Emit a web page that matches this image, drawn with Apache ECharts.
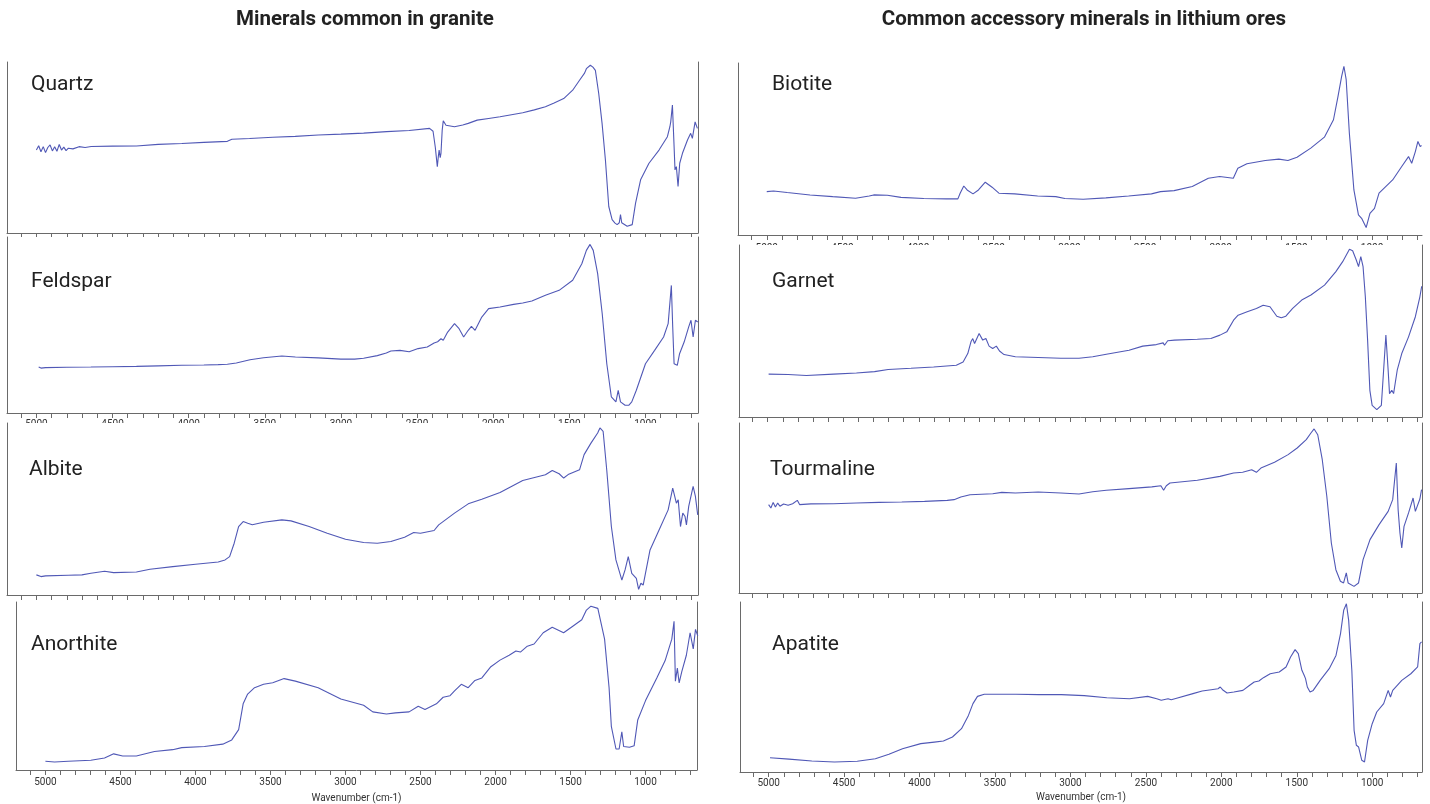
<!DOCTYPE html>
<html>
<head>
<meta charset="utf-8">
<script src="https://cdn.jsdelivr.net/npm/echarts@6/dist/echarts.min.js"></script>
<style>
html,body{margin:0;padding:0;background:#fff;}
#chart{width:1430px;height:804px;}
</style>
</head>
<body>
<div id="chart"></div>
<script>
// ---------- DATA (wavenumber cm-1, relative signal 0-100) ----------
const columnTitles = ['Minerals common in granite', 'Common accessory minerals in lithium ores'];
const mineralNames = ['Quartz', 'Feldspar', 'Albite', 'Anorthite', 'Biotite', 'Garnet', 'Tourmaline', 'Apatite'];
const axisName = 'Wavenumber (cm-1)';
const tickValues = [700,800,900,1000,1100,1200,1300,1400,1500,1600,1700,1800,1900,2000,2100,2200,2300,2400,2500,2600,2700,2800,2900,3000,3100,3200,3300,3400,3500,3600,3700,3800,3900,4000,4100,4200,4300,4400,4500,4600,4700,4800,4900,5000,5100];
const tickLabels = [1000,1500,2000,2500,3000,3500,4000,4500,5000];

const quartz = [[5000,48.5],[4985,51],[4970,47.5],[4955,50.5],[4940,47],[4925,50],[4910,51.5],[4895,48],[4880,50.5],[4865,47.8],[4850,51.8],[4835,48.5],[4820,50.2],[4805,48.2],[4790,49.6],[4760,49.2],[4720,50.5],[4680,50.0],[4640,50.6],[4500,50.8],[4343,50.9],[4200,51.8],[4045,52.3],[3900,53.0],[3746,53.6],[3716,54.8],[3600,55.3],[3448,56.0],[3300,56.5],[3149,57.3],[3000,57.8],[2851,58.4],[2700,59.3],[2552,59.9],[2418,61.2],[2395,59.5],[2380,50],[2367,38.8],[2360,45],[2355,48.5],[2348,44],[2343,46.6],[2335,60],[2328,65.6],[2310,63],[2299,62.5],[2254,62.1],[2200,63.2],[2164,64.1],[2105,66.0],[2030,67],[1955,68.0],[1880,69.2],[1806,70.3],[1730,72],[1657,73.8],[1600,76],[1537,78.6],[1478,83.5],[1433,89.3],[1400,93.5],[1388,96.1],[1362,98.1],[1345,97],[1329,95.1],[1307,81.6],[1285,64.1],[1263,42.7],[1241,15.5],[1219,7.8],[1200,5.8],[1186,4.9],[1172,6],[1164,10.7],[1156,6],[1153,4.9],[1120,3.9],[1087,4.9],[1065,17.5],[1032,31.1],[977,40.8],[911,48.5],[856,56.3],[840,62],[834,65.0],[823,74.8],[812,50.5],[806,36.9],[797,38.8],[786,27.2],[775,40.8],[757,46.6],[724,54.4],[703,58.3],[692,55.3],[674,65.0],[659,61.2]];

const feldspar = [[4985,26.1],[4970,25.5],[4940,25.8],[4800,26.0],[4642,26.1],[4500,26.3],[4343,26.5],[4200,26.8],[4045,27.1],[3900,27.3],[3806,27.5],[3746,27.7],[3687,28.4],[3597,30.3],[3508,31.4],[3388,32.4],[3299,31.8],[3149,31.3],[3000,30.6],[2910,30.6],[2851,31.1],[2761,32.6],[2702,34.1],[2672,35.2],[2612,35.6],[2552,34.8],[2493,36.6],[2433,37.5],[2388,39.8],[2365,40.5],[2358,41.3],[2343,42.2],[2328,41.3],[2299,46.0],[2254,50.8],[2224,47.9],[2194,43.2],[2164,47.0],[2143,49.2],[2119,47.0],[2075,54.5],[2030,59.3],[1955,60.2],[1866,61.7],[1806,62.5],[1746,63.6],[1657,66.9],[1567,69.7],[1478,75.4],[1418,84.8],[1388,92.4],[1364,95.8],[1343,92.4],[1314,79.2],[1284,56.4],[1254,28.0],[1224,9.1],[1194,6.3],[1179,12.9],[1164,6.3],[1134,4.4],[1110,4.4],[1090,6.3],[1060,12.9],[1000,28.0],[940,35.6],[881,43.2],[851,50.8],[830,72.5],[821,48.9],[812,28.0],[800,27.1],[791,27.1],[776,33.7],[746,40.3],[716,48.9],[701,52.7],[687,43.2],[672,52.7],[657,51.7]];

const albite = [[5000,11.7],[4970,10.7],[4940,11.1],[4791,11.5],[4701,11.7],[4642,12.6],[4552,13.8],[4493,13.0],[4343,13.4],[4254,15.0],[4104,16.5],[3955,17.9],[3806,19.2],[3761,20.4],[3731,22.3],[3701,30.1],[3672,39.8],[3642,42.7],[3612,41.7],[3582,40.8],[3508,42.3],[3388,43.7],[3328,43.1],[3209,39.8],[3090,35.9],[2970,32.4],[2851,30.5],[2761,30.1],[2672,31.1],[2582,33.6],[2522,36.3],[2478,35.9],[2388,37.5],[2358,40.8],[2254,47.6],[2164,53.0],[2075,55.7],[1955,59.6],[1806,66.6],[1657,69.9],[1612,72.4],[1567,70.5],[1537,68.0],[1508,70.0],[1433,72.8],[1403,81.6],[1358,88.3],[1314,94.2],[1299,97.1],[1278,95.1],[1254,72.4],[1224,39.8],[1194,20.4],[1155,8.7],[1134,14.6],[1113,22.3],[1090,12.6],[1060,9.7],[1045,3.3],[1030,6.8],[1015,5.8],[1000,12.6],[970,26.2],[910,37.9],[851,49.5],[821,62.1],[797,53.4],[785,55.3],[770,39.8],[755,47.6],[740,45.6],[731,40.8],[716,51.5],[687,63.1],[672,57.3],[657,46.6]];

const anorthite = [[5000,5.2],[4939,4.8],[4848,5.2],[4697,5.8],[4606,7.1],[4545,9.6],[4485,8.3],[4394,8.3],[4273,11.0],[4152,12.1],[4091,13.3],[3940,14.0],[3818,15.4],[3758,17.9],[3712,24.0],[3682,39.4],[3652,45.2],[3606,49.0],[3546,51.0],[3485,51.9],[3409,54.4],[3334,52.9],[3182,49.0],[3031,42.3],[2879,38.5],[2818,34.6],[2727,33.3],[2667,34.0],[2576,34.6],[2515,37.9],[2470,36.0],[2394,39.4],[2349,43.3],[2303,44.2],[2273,47.1],[2228,51.0],[2182,49.0],[2137,53.3],[2091,54.8],[2031,61.5],[1970,65.4],[1909,68.3],[1864,70.8],[1834,70.2],[1788,73.7],[1743,75.0],[1682,81.7],[1622,85.0],[1546,81.7],[1485,85.6],[1425,89.4],[1394,95.2],[1364,97.5],[1318,96.2],[1273,77.9],[1243,49.0],[1228,26.0],[1197,12.5],[1176,12.5],[1158,22.7],[1146,14.0],[1107,13.5],[1076,14.4],[1052,29.8],[1000,41.3],[925,54.8],[870,65.0],[825,77.9],[810,88.5],[801,52.9],[788,60.6],[776,51.9],[758,58.7],[728,68.3],[703,81.7],[682,72.1],[667,83.7],[652,79.8]];

const biotite = [[5000,25.2],[4955,25.6],[4865,24.7],[4714,23.3],[4564,22.3],[4413,21.4],[4323,22.7],[4293,23.3],[4203,23.1],[4113,21.9],[3962,21.2],[3812,21.0],[3737,21.0],[3722,24.3],[3698,28.5],[3676,26.2],[3637,23.9],[3601,26.2],[3556,30.7],[3511,27.8],[3466,24.3],[3361,23.9],[3210,22.7],[3090,22.3],[3030,21.2],[2909,20.8],[2759,21.6],[2609,22.7],[2458,23.9],[2398,25.2],[2308,25.8],[2188,28.2],[2082,33.0],[2007,34.0],[1917,33.0],[1887,38.8],[1827,41.4],[1706,43.3],[1616,44.1],[1556,43.3],[1496,45.2],[1405,50.5],[1315,56.9],[1255,67.0],[1225,80.6],[1201,92.2],[1186,98.1],[1171,90.3],[1150,59.2],[1120,26.2],[1090,11.7],[1069,9.7],[1039,4.3],[1014,12.6],[984,15.5],[954,24.3],[864,32.0],[804,39.8],[759,45.6],[738,41.7],[714,48.5],[697,54.4],[682,51.5],[673,52]];

const garnet = [[4994,24.9],[4865,24.7],[4744,24.1],[4564,24.9],[4413,25.6],[4293,26.4],[4203,27.6],[4052,28.3],[3902,29.1],[3752,30.1],[3707,32.0],[3676,36.9],[3655,43.7],[3643,45.6],[3631,42.7],[3616,45.6],[3601,48.5],[3577,44.7],[3556,45.6],[3535,41.2],[3511,39.8],[3487,41.2],[3466,38.4],[3436,36.3],[3361,35.0],[3210,34.6],[3060,34.2],[2940,34.2],[2849,35.0],[2759,36.5],[2609,38.8],[2518,41.2],[2428,42.1],[2383,43.1],[2374,41.7],[2353,44.3],[2308,44.7],[2157,45.2],[2067,45.6],[2007,47.6],[1962,49.5],[1917,56.3],[1887,59.2],[1827,61.2],[1766,63.1],[1721,65.0],[1676,64.1],[1631,58.6],[1601,57.7],[1571,58.6],[1526,63.1],[1466,68.0],[1405,70.9],[1315,76.7],[1240,84.5],[1195,90.3],[1150,97.5],[1129,96.7],[1105,91.3],[1090,87.4],[1075,93.2],[1060,87.4],[1045,69.9],[1030,44.7],[1015,15.5],[1000,6.8],[969,4.3],[939,6.8],[924,27.2],[909,47.6],[894,27.2],[885,13.6],[870,15.5],[858,13.6],[834,27.2],[804,36.9],[759,46.6],[714,58.3],[684,69.9],[672,76]];

const tourmaline = [[4994,52.0],[4979,50.0],[4964,53.3],[4949,50.6],[4934,52.9],[4919,51.0],[4895,52.4],[4865,51.6],[4835,52.5],[4804,54.5],[4789,52.0],[4714,52.4],[4564,52.5],[4413,52.9],[4263,53.3],[4113,53.5],[3962,53.9],[3812,54.5],[3767,54.9],[3722,56.5],[3661,57.8],[3511,58.4],[3451,59.2],[3361,58.8],[3210,59.4],[3060,58.8],[2940,58.2],[2849,59.6],[2759,60.4],[2609,61.4],[2458,62.4],[2398,63.1],[2380,60.4],[2362,63.1],[2338,64.7],[2157,66.3],[2007,68.6],[1917,70.6],[1857,71.0],[1797,72.5],[1766,71.0],[1736,73.5],[1646,76.9],[1556,81.4],[1496,85.3],[1436,90.2],[1405,94.1],[1384,96.5],[1360,93.1],[1330,78.4],[1300,56.9],[1270,29.4],[1240,13.7],[1210,6.9],[1189,5.9],[1171,11.8],[1159,5.9],[1120,3.9],[1090,5.9],[1060,19.6],[1014,31.4],[954,40.2],[894,48.0],[864,54.9],[840,76.5],[828,49.0],[816,35.3],[804,26.5],[789,39.2],[759,47.1],[729,55.9],[714,48.0],[684,55.3],[673,60.8]];

const apatite = [[4991,8.4],[4865,7.6],[4714,6.5],[4564,5.9],[4413,6.3],[4293,7.8],[4203,10.4],[4113,13.7],[3992,16.7],[3902,17.6],[3842,18.2],[3782,20.6],[3722,25.5],[3676,33.3],[3646,40.2],[3616,44.5],[3571,45.7],[3361,45.7],[3210,45.5],[3060,45.5],[2909,44.9],[2759,43.7],[2609,43.1],[2488,44.5],[2428,43.1],[2398,42.2],[2353,43.1],[2344,44.1],[2332,42.5],[2308,43.1],[2188,46.1],[2127,47.6],[2067,48.4],[2022,49.0],[2007,50.0],[1992,48.4],[1962,46.5],[1917,47.1],[1857,48.0],[1812,51.0],[1782,52.9],[1751,53.5],[1721,55.5],[1676,57.8],[1616,58.8],[1571,61.8],[1541,67.6],[1511,72.0],[1490,69.6],[1466,59.8],[1451,56.9],[1442,54.9],[1430,50.0],[1412,47.1],[1391,48.0],[1345,53.9],[1285,60.8],[1240,68.6],[1210,81.4],[1189,95.1],[1171,99.0],[1156,89.2],[1135,59.8],[1120,24.5],[1105,15.7],[1090,14.7],[1069,6.9],[1051,5.9],[1030,18.6],[1000,28.4],[970,35.3],[924,40.2],[894,48.0],[879,44.1],[864,48.0],[804,53.9],[744,57.8],[699,61.8],[684,75.5],[673,76.5]];

const spectra = [quartz, feldspar, albite, anorthite, biotite, garnet, tourmaline, apatite];

// ---------- LAYOUT ----------
const layout = [
  {grid:{left:7,   top:62,  width:691, height:171}, range:[655,5193], z:10, right:true,  labelXY:[31,85],   margin:6,  name:false},
  {grid:{left:7,   top:237, width:691, height:176}, range:[655,5193], z:20, right:true,  labelXY:[31,282],  margin:6,  name:false},
  {grid:{left:7,   top:423, width:691, height:172}, range:[655,5193], z:30, right:true,  labelXY:[29,470],  margin:8,  name:false},
  {grid:{left:16,  top:602, width:681, height:173}, range:[657,5196], z:40, right:true,  labelXY:[31,645],  margin:7,  name:true, nameGap:23},
  {grid:{left:738, top:63,  width:684, height:172}, range:[670,5190], z:10, right:false, labelXY:[772,85],  margin:8,  name:false},
  {grid:{left:739, top:245, width:683, height:172}, range:[670,5190], z:20, right:true,  labelXY:[772,282], margin:8,  name:false},
  {grid:{left:739, top:423, width:683, height:170}, range:[670,5190], z:30, right:true,  labelXY:[770,470], margin:9,  name:false},
  {grid:{left:740, top:602, width:682, height:170}, range:[670,5190], z:40, right:true,  labelXY:[772,645], margin:6,  name:true, nameGap:20}
];

const LINE = '#5058b6';
const AXIS = '#6a6a6a';

const grids = [], xAxes = [], yAxes = [], series = [], graphics = [];
layout.forEach((p, i) => {
  grids.push(Object.assign({show:true, backgroundColor:'#fff', borderWidth:0, z:p.z}, p.grid));
  xAxes.push({
    type:'value', gridIndex:i, inverse:true, min:p.range[0], max:p.range[1], z:p.z+1,
    axisLine:{show:true, onZero:false, lineStyle:{color:AXIS, width:1}},
    axisTick:{show:true, length:5, customValues:tickValues, lineStyle:{color:AXIS}},
    axisLabel:{show:true, customValues:tickLabels, fontSize:10, color:'#333', margin:p.margin,
      fontFamily:'Roboto', formatter:(v) => String(v)},
    splitLine:{show:false},
    name: p.name ? axisName : '', nameLocation:'middle', nameGap:p.nameGap || 20,
    nameTextStyle:{fontSize:10, color:'#333', fontFamily:'Roboto'}
  });
  const yi = yAxes.length;
  yAxes.push({type:'value', gridIndex:i, min:0, max:100, position:'left', z:p.z+1,
    axisLine:{show:true, onZero:false, lineStyle:{color:AXIS, width:1}},
    axisTick:{show:false}, axisLabel:{show:false}, splitLine:{show:false}});
  if (p.right) {
    yAxes.push({type:'value', gridIndex:i, min:0, max:100, position:'right', z:p.z+1,
      axisLine:{show:true, onZero:false, lineStyle:{color:AXIS, width:1}},
      axisTick:{show:false}, axisLabel:{show:false}, splitLine:{show:false}});
  }
  series.push({type:'line', name:mineralNames[i], xAxisIndex:i, yAxisIndex:yi, data:spectra[i],
    showSymbol:false, symbol:'none', silent:true, z:p.z+2,
    lineStyle:{color:LINE, width:1.1}});
  graphics.push({type:'text', x:p.labelXY[0], y:p.labelXY[1], z:200,
    style:{text:mineralNames[i], font:'21px Roboto', fill:'#222', align:'left', verticalAlign:'middle'}});
});
graphics.push({type:'text', x:365, y:20, z:200,
  style:{text:columnTitles[0], font:'bold 20.5px Roboto', fill:'#222', align:'center', verticalAlign:'middle'}});
graphics.push({type:'text', x:1084, y:20, z:200,
  style:{text:columnTitles[1], font:'bold 20.5px Roboto', fill:'#222', align:'center', verticalAlign:'middle'}});

const chart = echarts.init(document.getElementById('chart'), null, {renderer:'canvas'});
chart.setOption({
  animation:false,
  backgroundColor:'#fff',
  grid:grids, xAxis:xAxes, yAxis:yAxes, series:series,
  graphic:{elements:graphics}
});
</script>
</body>
</html>
